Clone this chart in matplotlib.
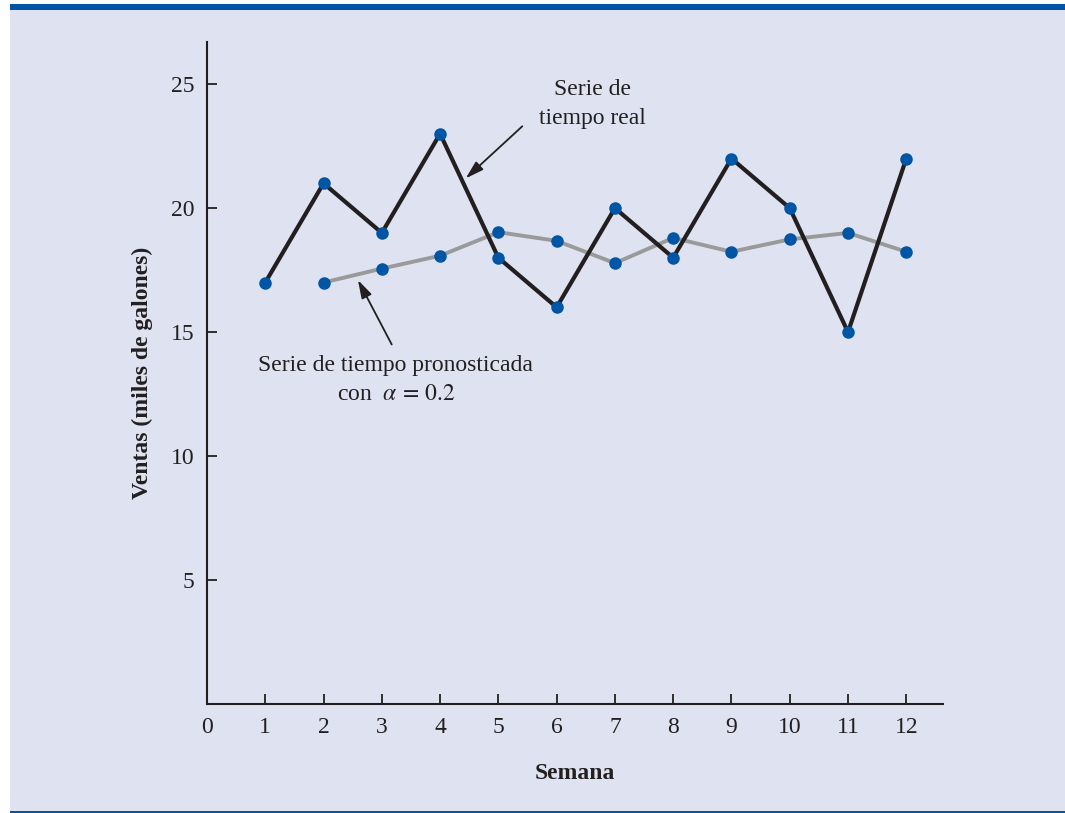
import matplotlib
matplotlib.use("Agg")
import matplotlib.pyplot as plt
from matplotlib.patches import Rectangle

# datos
semanas = [1, 2, 3, 4, 5, 6, 7, 8, 9, 10, 11, 12]
ventas = [17, 21, 19, 23, 18, 16, 20, 18, 22, 20, 15, 22]
semanas_pron = [2, 3, 4, 5, 6, 7, 8, 9, 10, 11, 12]
pronostico = [17, 17.56, 18.08, 19.03, 18.68, 17.78, 18.8, 18.24, 18.74, 19.0, 18.24]
xticks = list(range(0, 13))
yticks = [5, 10, 15, 20, 25]

BG = '#dfe3f1'
AZUL = '#0055a4'
NEGRO = '#231f20'
GRIS = '#9a9a9a'

plt.rcParams['font.family'] = ['Liberation Serif', 'DejaVu Serif']
plt.rcParams['mathtext.fontset'] = 'stix'

W, H = 1065, 813
fig = plt.figure(figsize=(W / 100, H / 100), dpi=100)
fig.patch.set_facecolor('white')
# fondo y barras azules
fig.add_artist(Rectangle((10 / W, 0), 1, 1 - 10 / H, transform=fig.transFigure,
                         facecolor=BG, edgecolor='none', zorder=-10))
fig.add_artist(Rectangle((10 / W, 1 - 10 / H), 1, 6 / H, transform=fig.transFigure,
                         facecolor=AZUL, edgecolor='none', zorder=-9))
fig.add_artist(Rectangle((10 / W, 0), 1, 2 / H, transform=fig.transFigure,
                         facecolor=AZUL, edgecolor='none', zorder=-9))

ax = fig.add_axes([207 / W, (H - 704) / H, (943 - 207) / W, (704 - 42) / H])
ax.set_facecolor('none')

ax.plot(semanas_pron, pronostico, color=GRIS, lw=2.8, zorder=2)
ax.plot(semanas, ventas, color=NEGRO, lw=3.0, zorder=3)
ax.plot(semanas_pron, pronostico, 'o', color=AZUL, ms=8, zorder=4)
ax.plot(semanas, ventas, 'o', color=AZUL, ms=8, zorder=5)

ax.set_xlim(0, 12.63)
ax.set_ylim(0, 26.7)
ax.set_xticks(xticks)
ax.set_yticks(yticks)
ax.tick_params(direction='in', length=7, width=1.3, colors=NEGRO, labelsize=17, pad=9)
for s in ['top', 'right']:
    ax.spines[s].set_visible(False)
for s in ['left', 'bottom']:
    ax.spines[s].set_linewidth(1.5)
    ax.spines[s].set_color(NEGRO)

ax.set_xlabel('Semana', fontsize=17, fontweight='bold', color=NEGRO, labelpad=18)
ax.set_ylabel('Ventas (miles de galones)', fontsize=17, fontweight='bold', color=NEGRO, labelpad=13)

flecha = dict(arrowstyle='-|>,head_length=0.5,head_width=0.15', lw=1.3, color=NEGRO,
              mutation_scale=22, shrinkA=0, shrinkB=0)
ax.annotate('', xy=(4.44, 21.2), xytext=(5.41, 23.3), arrowprops=flecha)
ax.text(6.61, 24.2, 'Serie de\ntiempo real', ha='center', va='center', fontsize=17,
        color=NEGRO, linespacing=1.5)
ax.annotate('', xy=(2.59, 17.1), xytext=(3.17, 14.5), arrowprops=flecha)
ax.text(3.24, 13.05, 'Serie de tiempo pronosticada\ncon  $\\alpha\\,=\\,0.2$', ha='center',
        va='center', fontsize=17, color=NEGRO, linespacing=1.5)

fig.savefig('out.png', dpi=100)
